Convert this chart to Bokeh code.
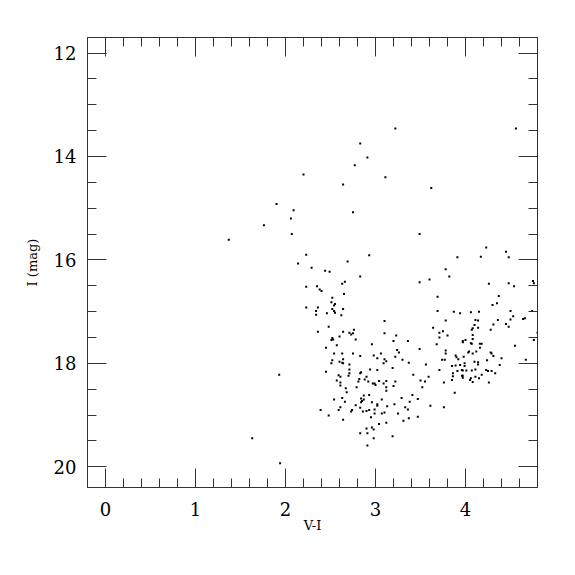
from bokeh.plotting import figure
from bokeh.models import Range1d, LinearAxis, SingleIntervalTicker, CustomJSTickFormatter
from bokeh.embed import file_html
from bokeh.resources import INLINE

# V-I colour and I magnitude of the stars
pts = [
(1.90,14.92),(2.09,15.04),(2.06,15.20),(1.76,15.33),(2.07,15.50),(1.37,15.61),(2.14,16.07),
(1.93,18.22),(1.63,19.45),(1.94,19.93),(2.83,13.75),(2.91,14.02),(2.77,14.17),(2.20,14.35),
(3.11,14.40),(2.64,14.54),(2.75,15.08),(2.23,15.90),(2.93,15.91),(2.29,16.15),(2.44,16.21),
(2.49,16.23),(2.69,16.03),(2.83,16.32),(3.22,13.46),(4.56,13.46),(3.62,14.61),(3.49,15.50),
(4.23,15.76),(4.45,15.84),(3.91,15.95),(4.17,15.94),(4.48,15.95),(3.78,16.18),(3.82,16.32),
(4.26,16.46),(4.48,16.45),(4.54,16.51),(4.75,16.41),(4.76,16.45),(4.37,16.70),(4.30,16.87),
(4.35,16.84),(3.87,17.00),(3.94,17.03),(4.06,17.01),(4.15,17.00),(4.50,16.99),(4.74,16.99),
(4.53,17.09),(4.64,17.14),(4.66,17.13),(4.50,17.15),(4.36,17.16),(4.11,17.16),(4.14,17.17),
(4.31,17.25),(4.45,17.24),(4.10,17.26),(4.48,17.29),(4.08,17.32),(4.14,17.31),(4.07,17.35),
(4.28,17.35),(3.78,17.17),(4.80,17.41),(4.76,17.55),(4.55,17.66),(4.67,17.93),
(3.80,17.46),(4.08,17.45),(4.08,17.53),(3.97,17.57),(4.00,17.55),(3.97,17.59),(4.06,17.61),
(4.07,17.62),(4.16,17.62),(4.18,17.62),(4.16,17.70),(4.12,17.77),(4.28,17.79),(4.29,17.81),
(4.03,17.79),(4.04,17.77),(4.08,17.81),(3.89,17.85),(3.90,17.88),(3.92,17.92),(3.98,17.87),
(4.31,17.86),(4.40,17.90),(4.24,17.94),(4.10,17.97),(4.14,17.98),(4.14,18.02),(3.85,18.05),
(3.89,18.04),(3.94,18.03),(3.99,18.00),(3.99,18.05),(4.38,18.03),(3.91,18.15),(3.96,18.13),
(3.97,18.14),(4.01,18.14),(4.07,18.14),(4.11,18.12),(4.23,18.13),(4.25,18.15),(4.29,18.15),
(4.33,18.19),(3.86,18.19),(3.86,18.25),(3.96,18.24),(3.97,18.24),(3.97,18.28),(4.06,18.29),
(4.05,18.32),(4.11,18.26),(4.15,18.29),(4.18,18.22),(4.08,18.36),(4.26,18.37),(3.85,18.32),
(3.88,18.57),
(3.49,16.43),(3.60,16.38),(3.69,16.71),(3.69,16.99),(3.10,17.18),(3.64,17.31),(3.71,17.41),
(3.75,17.38),(3.10,17.42),(3.71,17.50),(3.23,17.46),(3.20,17.57),(3.36,17.57),(3.68,17.63),
(3.49,17.72),(3.24,17.74),(3.26,17.79),(3.06,17.81),(3.78,17.75),(3.78,17.81),(3.74,17.93),
(3.77,17.93),(3.10,17.92),(3.12,17.96),(3.30,17.93),(3.22,17.87),(3.09,18.00),(3.37,17.99),
(3.56,18.02),(3.71,18.13),(3.19,18.09),(3.42,18.22),(3.59,18.26),(3.50,18.33),(3.55,18.35),
(3.12,18.34),(3.09,18.39),(3.22,18.35),(3.76,18.37),(3.20,18.44),(3.12,18.46),(3.12,18.53),
(3.52,18.46),(3.07,18.70),(3.29,18.67),(3.41,18.61),(3.47,18.69),(3.38,18.74),(3.21,18.79),
(3.13,18.83),(3.33,18.85),(3.36,18.89),(3.61,18.82),(3.76,18.85),(3.10,18.95),(3.07,18.97),
(3.25,18.97),(3.47,19.03),(3.37,19.06),(3.31,19.11),(3.12,19.15),(3.19,19.41),
(2.76,17.35),(2.71,17.41),(2.73,17.44),(2.75,17.42),(2.78,17.54),(2.96,17.63),(2.75,17.81),
(2.83,17.86),(2.98,17.85),(3.02,17.90),(2.71,18.02),(2.71,18.12),(2.71,18.19),(2.70,18.24),
(2.84,18.17),(2.83,18.19),(2.94,18.12),(3.02,18.13),(2.90,18.26),(2.88,18.31),(2.82,18.30),
(2.81,18.35),(2.92,18.35),(2.97,18.39),(2.99,18.39),(3.00,18.42),(3.04,18.34),(2.79,18.46),
(2.67,18.48),(2.68,18.56),(2.87,18.62),(2.93,18.61),(2.84,18.68),(2.87,18.70),(2.85,18.73),
(2.84,18.75),(2.96,18.75),(3.02,18.79),(3.02,18.82),(2.78,18.81),(2.83,18.86),(2.99,18.89),
(2.74,18.90),(2.73,18.93),(2.86,18.93),(2.90,18.92),(2.93,18.90),(2.95,19.04),(2.99,18.97),
(3.04,19.17),(2.90,19.26),(2.96,19.24),(2.98,19.28),(2.83,19.35),(2.91,19.35),(2.98,19.45),
(2.91,19.59),
(2.23,16.52),(2.35,16.51),(2.38,16.57),(2.40,16.60),(2.63,16.46),(2.66,16.42),(2.65,16.66),
(2.52,16.73),(2.51,16.82),(2.55,16.85),(2.54,16.88),(2.23,16.92),(2.36,16.92),(2.52,16.95),
(2.64,16.95),(2.34,16.99),(2.54,16.99),(2.55,17.02),(2.34,17.06),(2.46,17.03),(2.62,17.07),
(2.48,17.29),(2.36,17.39),(2.64,17.39),(2.60,17.48),(2.52,17.51),(2.51,17.55),(2.53,17.54),
(2.57,17.65),(2.45,17.70),
(2.63,17.81),(2.54,17.81),(2.52,17.94),(2.51,18.00),(2.60,17.97),(2.63,17.99),(2.64,18.00),
(2.64,17.92),(2.45,18.16),(2.59,18.23),(2.61,18.26),(2.57,18.33),(2.61,18.37),(2.61,18.43),
(2.63,18.67),(2.66,18.74),(2.54,18.70),(2.61,18.85),(2.59,18.90),(2.39,18.90),(2.48,19.01),
(2.64,19.09),
]
v_minus_i = [a for a, b in pts]
i_mag = [b for a, b in pts]

TICK_FONT = "DejaVu Serif"
LABEL_FONT = "DejaVu Serif"
LINE = "#333333"

p = figure(width=557, height=557, frame_width=450, frame_height=450,
           x_range=Range1d(-0.2, 4.8), y_range=Range1d(20.4, 11.7),
           output_backend="svg", toolbar_location=None,
           x_axis_location=None, y_axis_location=None,
           min_border_left=87, min_border_top=37, min_border_right=20, min_border_bottom=20)
p.grid.visible = False
p.outline_line_color = LINE
p.background_fill_color = "white"
p.border_fill_color = "white"

def mk(kind, labels):
    if kind == "x":
        t = SingleIntervalTicker(interval=1, num_minor_ticks=5)
    else:
        t = SingleIntervalTicker(interval=2, num_minor_ticks=4)
    ax = LinearAxis(ticker=t)
    ax.major_tick_in = 19
    ax.major_tick_out = 0
    ax.minor_tick_in = 9
    ax.minor_tick_out = 0
    ax.axis_line_color = LINE
    ax.major_tick_line_color = LINE
    ax.minor_tick_line_color = LINE
    if labels:
        ax.major_label_text_font = TICK_FONT
        ax.major_label_text_font_size = "18px"
        ax.major_label_text_color = "black"
        ax.major_label_standoff = 11
        ax.axis_label_text_font = LABEL_FONT
        ax.axis_label_text_font_size = "13px"
        ax.axis_label_text_font_style = "normal"
        ax.axis_label_text_color = "black"
    else:
        ax.formatter = CustomJSTickFormatter(code="return ''")
        ax.major_label_standoff = 0
    return ax

xb = mk("x", True); xb.axis_label = "V-I"
xb.major_label_standoff = 14; xb.axis_label_standoff = -1
yl = mk("y", True); yl.axis_label = "I (mag)"; yl.axis_label_standoff = 11
xt = mk("x", False)
yr = mk("y", False)
p.add_layout(xb, "below")
p.add_layout(yl, "left")
p.add_layout(xt, "above")
p.add_layout(yr, "right")

p.scatter(v_minus_i, i_mag, marker="square", size=2.0, color="black", line_color=None)

open("out.html", "w").write(file_html(p, INLINE))
